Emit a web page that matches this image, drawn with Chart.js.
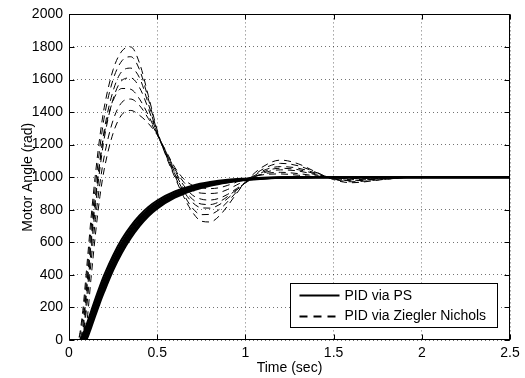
<!DOCTYPE html>
<html>
<head>
<meta charset="utf-8">
<script src="https://cdn.jsdelivr.net/npm/chart.js@4"></script>
<style>
  html, body { margin: 0; padding: 0; background: #fff; }
</style>
</head>
<body>
<canvas id="chart" width="525" height="378"></canvas>
<script>
// time samples (sec)
const timePS = [0, 0.05, 0.06, 0.075, 0.09, 0.1, 0.125, 0.15, 0.175, 0.2, 0.25, 0.3, 0.35, 0.4, 0.45, 0.5, 0.6, 0.7, 0.8, 0.9, 1.0, 1.1, 1.2, 1.4, 1.6, 2.0, 2.5];
const timeZN = [0, 0.05, 0.075, 0.1, 0.125, 0.15, 0.175, 0.2, 0.25, 0.3, 0.35, 0.4, 0.45, 0.5, 0.55, 0.6, 0.65, 0.7, 0.75, 0.8, 0.85, 0.9, 0.95, 1.0, 1.1, 1.2, 1.3, 1.4, 1.5, 1.6, 1.8, 2.0, 2.5];

// PID via PS runs (rad)
const ps1 = [0, 0, 0, 25, 65, 95, 175, 255, 330, 400, 520, 620, 700, 765, 817, 857, 912, 948, 970, 984, 991, 996, 999, 1000, 1000, 1000, 1000];
const ps2 = [0, 0, 0, 12, 48, 75, 150, 230, 305, 375, 500, 600, 683, 750, 803, 845, 902, 940, 964, 979, 989, 995, 998, 1000, 1000, 1000, 1000];
const ps3 = [0, 0, 0, 3, 30, 55, 130, 210, 285, 355, 480, 585, 668, 738, 793, 836, 895, 934, 960, 976, 987, 994, 997, 1000, 1000, 1000, 1000];
const ps4 = [0, 0, 0, 0, 15, 40, 115, 195, 270, 340, 465, 570, 655, 725, 782, 826, 888, 928, 955, 973, 985, 993, 997, 1000, 1000, 1000, 1000];
const ps5 = [0, 0, 0, 0, 3, 20, 95, 175, 250, 320, 447, 553, 640, 712, 771, 816, 881, 923, 952, 971, 984, 992, 996, 1000, 1000, 1000, 1000];
const ps6 = [0, 0, 0, 0, 0, 5, 75, 152, 228, 298, 428, 536, 625, 699, 760, 807, 874, 918, 948, 968, 982, 991, 996, 1000, 1000, 1000, 1000];

// PID via Ziegler Nichols runs (rad)
const zn1 = [0, 0, 150, 440, 750, 1020, 1250, 1430, 1660, 1775, 1800, 1700, 1500, 1290, 1130, 1000, 880, 785, 730, 725, 760, 825, 900, 970, 1065, 1105, 1082, 1032, 985, 966, 988, 1003, 1000];
const zn2 = [0, 0, 110, 380, 680, 950, 1180, 1370, 1600, 1715, 1740, 1660, 1480, 1280, 1135, 1010, 895, 810, 770, 772, 800, 850, 910, 968, 1050, 1085, 1070, 1030, 988, 972, 988, 1002, 1000];
const zn3 = [0, 0, 30, 300, 590, 860, 1090, 1290, 1530, 1650, 1670, 1610, 1450, 1270, 1140, 1020, 915, 845, 812, 810, 830, 870, 920, 968, 1040, 1065, 1055, 1025, 990, 978, 990, 1001, 1000];
const zn4 = [0, 0, 0, 260, 550, 820, 1050, 1240, 1480, 1595, 1610, 1550, 1420, 1268, 1145, 1030, 930, 865, 835, 832, 848, 882, 925, 966, 1032, 1055, 1046, 1020, 991, 981, 992, 1001, 1000];
const zn5 = [0, 0, 60, 330, 620, 880, 1100, 1270, 1470, 1545, 1540, 1480, 1380, 1265, 1150, 1040, 950, 890, 865, 860, 870, 895, 930, 965, 1025, 1045, 1038, 1015, 992, 985, 994, 1001, 1000];
const zn6 = [0, 0, 0, 200, 480, 740, 960, 1130, 1350, 1460, 1480, 1440, 1360, 1262, 1155, 1050, 970, 920, 902, 900, 905, 925, 952, 980, 1020, 1030, 1022, 1008, 995, 992, 997, 1000, 1000];
const zn7 = [0, 0, 0, 100, 380, 650, 880, 1050, 1270, 1385, 1410, 1380, 1330, 1260, 1160, 1060, 990, 950, 935, 930, 935, 950, 970, 990, 1015, 1020, 1012, 1002, 994, 994, 998, 1000, 1000];

// axis ticks
const xTicks = [0, 0.5, 1, 1.5, 2, 2.5];
const xTickLabels = ['0', '0.5', '1', '1.5', '2', '2.5'];
const yTicks = [0, 200, 400, 600, 800, 1000, 1200, 1400, 1600, 1800, 2000];
const yTickLabels = ['0', '200', '400', '600', '800', '1000', '1200', '1400', '1600', '1800', '2000'];

const legendLabels = ['PID via PS', 'PID via Ziegler Nichols'];

const FONT = 'Liberation Sans, Arial, Helvetica, sans-serif';

function toPoints(times, vals) {
    return times.map((t, i) => ({ x: t, y: vals[i] }));
}

const datasets = [];
[ps1, ps2, ps3, ps4, ps5, ps6].forEach(run => {
    datasets.push({
        data: toPoints(timePS, run),
        borderColor: '#000',
        borderWidth: 2,
        pointRadius: 0,
        fill: false,
        cubicInterpolationMode: 'monotone'
    });
});
[zn1, zn2, zn3, zn4, zn5, zn6, zn7].forEach(run => {
    datasets.push({
        data: toPoints(timeZN, run),
        borderColor: '#000',
        borderWidth: 1,
        borderDash: [7, 5],
        pointRadius: 0,
        fill: false,
        cubicInterpolationMode: 'monotone'
    });
});

// box, inward ticks and legend, matlab style
const framePlugin = {
    id: 'frame',
    afterDraw(chart) {
        const { ctx, chartArea: a, scales } = chart;
        const L = Math.round(a.left) + 0.5, R = Math.round(a.right) - 0.5;
        const T = Math.round(a.top) + 0.5, B = Math.round(a.bottom) - 0.5;
        ctx.save();
        ctx.strokeStyle = '#000';
        ctx.lineWidth = 1;
        ctx.setLineDash([]);
        ctx.strokeRect(L, T, R - L, B - T);

        ctx.beginPath();
        xTicks.forEach(v => {
            const px = Math.round(scales.x.getPixelForValue(v)) + 0.5;
            ctx.moveTo(px, B); ctx.lineTo(px, B - 5);
            ctx.moveTo(px, T); ctx.lineTo(px, T + 5);
        });
        yTicks.forEach(v => {
            const py = Math.round(scales.y.getPixelForValue(v)) + 0.5;
            ctx.moveTo(L, py); ctx.lineTo(L + 5, py);
            ctx.moveTo(R, py); ctx.lineTo(R - 5, py);
        });
        ctx.stroke();

        // legend
        const bw = 207, bh = 44;
        const bx = R - 12 - bw, by = B - 12 - bh;
        ctx.fillStyle = '#fff';
        ctx.fillRect(bx, by, bw, bh);
        ctx.strokeRect(bx, by, bw, bh);

        const y1 = by + 12, y2 = by + 33;
        ctx.lineWidth = 2;
        ctx.beginPath();
        ctx.moveTo(bx + 9, y1); ctx.lineTo(bx + 49, y1);
        ctx.stroke();
        ctx.setLineDash([8, 6]);
        ctx.beginPath();
        ctx.moveTo(bx + 9, y2); ctx.lineTo(bx + 49, y2);
        ctx.stroke();
        ctx.setLineDash([]);

        ctx.fillStyle = '#000';
        ctx.font = '14px ' + FONT;
        ctx.textAlign = 'left';
        ctx.textBaseline = 'middle';
        ctx.fillText(legendLabels[0], bx + 54, y1 + 1);
        ctx.fillText(legendLabels[1], bx + 54, y2);
        ctx.restore();
    }
};

const gridStyle = { color: 'rgba(0,0,0,0.55)', lineWidth: 1, drawTicks: false };

new Chart(document.getElementById('chart'), {
    type: 'line',
    data: { datasets },
    options: {
        responsive: false,
        animation: false,
        events: [],
        layout: { padding: { top: 13, right: 15, left: 0, bottom: 0 } },
        plugins: {
            legend: { display: false },
            tooltip: { enabled: false }
        },
        scales: {
            x: {
                type: 'linear',
                min: 0,
                max: 2.5,
                afterBuildTicks: s => { s.ticks = xTicks.map(v => ({ value: v })); },
                afterFit: s => { s.height = 38; },
                ticks: {
                    color: '#000',
                    padding: 5,
                    maxRotation: 0,
                    font: { family: FONT, size: 14 },
                    callback: (v, i) => xTickLabels[i]
                },
                grid: gridStyle,
                border: { display: false, dash: [1, 3] },
                title: {
                    display: true,
                    text: 'Time (sec)',
                    color: '#000',
                    font: { family: FONT, size: 14 },
                    padding: { top: 0, bottom: 1 }
                }
            },
            y: {
                type: 'linear',
                min: 0,
                max: 2000,
                afterBuildTicks: s => { s.ticks = yTicks.map(v => ({ value: v })); },
                afterFit: s => { s.width = 69; },
                ticks: {
                    color: '#000',
                    padding: 6,
                    font: { family: FONT, size: 14 },
                    callback: (v, i) => yTickLabels[i]
                },
                grid: gridStyle,
                border: { display: false, dash: [1, 3] },
                title: {
                    display: true,
                    text: 'Motor Angle (rad)',
                    color: '#000',
                    font: { family: FONT, size: 14 },
                    padding: { top: 20, bottom: 0 }
                }
            }
        }
    },
    plugins: [framePlugin]
});
</script>
</body>
</html>
